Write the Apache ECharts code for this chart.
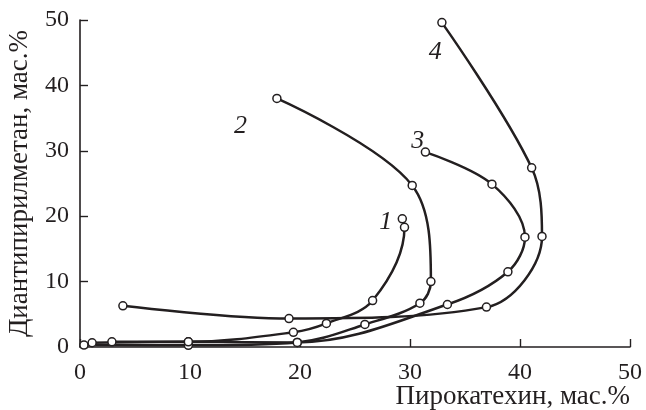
<!DOCTYPE html>
<html>
<head>
<meta charset="utf-8">
<script src="https://cdn.jsdelivr.net/npm/echarts@6/dist/echarts.min.js"></script>
<style>
  html, body { margin: 0; padding: 0; background: #fff; }
  #chart { width: 646px; height: 410px; }
</style>
</head>
<body>
<div id="chart"></div>
<script>
// Solubility curves: catechol (x) vs diantipyrylmethane (y), mass %
const curve1 = [[2.9, 0.8], [9.85, 0.8], [19.4, 2.25], [22.4, 3.6], [26.6, 7.1], [29.5, 18.3], [29.3, 19.6]];
const curve2 = [[0.36, 0.3], [9.85, 0.25], [19.75, 0.7], [25.9, 3.45], [30.9, 6.7], [31.9, 10.0], [30.2, 24.7], [17.9, 38.0]];
const curve3 = [[1.1, 0.65], [9.85, 0.8], [19.75, 0.7], [33.4, 6.5], [38.9, 11.5], [40.45, 16.8], [37.45, 24.9], [31.4, 29.8]];
const curve4 = [[3.9, 6.3], [19.0, 4.35], [36.95, 6.1], [42.0, 16.9], [41.06, 27.4], [32.9, 49.6]];

// Curve numbers and where they sit
const curveNames = ['1', '2', '3', '4'];
const curveLabelAt = [[27.8, 19.1], [14.6, 33.7], [30.7, 31.5], [32.3, 45.1]];

const xTicks = [0, 10, 20, 30, 40, 50];
const yTicks = [0, 10, 20, 30, 40, 50];

const xTitle = 'Пирокатехин, мас.%';
const yTitle = 'Диантипирилметан, мас.%';

const ink = '#231f20';
const serif = '"Liberation Serif", "DejaVu Serif", serif';

function curveSeries(data, idx) {
  return {
    type: 'line',
    name: curveNames[idx],
    data: data,
    smooth: 0.35,
    symbol: 'circle',
    symbolSize: 8,
    showAllSymbol: true,
    lineStyle: { color: ink, width: 2.5 },
    itemStyle: { color: '#fff', borderColor: ink, borderWidth: 1.5 },
    z: 2
  };
}

const chart = echarts.init(document.getElementById('chart'), null, { renderer: 'canvas' });

chart.setOption({
  animation: false,
  backgroundColor: '#fff',
  grid: { left: 80, right: 16, top: 20, bottom: 63, containLabel: false, outerBoundsMode: 'none' },
  graphic: [{
    type: 'text',
    right: 16,
    top: 383,
    style: { text: xTitle, font: '27px ' + serif, fill: ink }
  }],
  xAxis: {
    type: 'value',
    min: xTicks[0],
    max: xTicks[xTicks.length - 1],
    interval: 10,
    axisLine: { lineStyle: { color: ink, width: 1.6 } },
    axisTick: { inside: true, length: 8, lineStyle: { color: ink, width: 1.4 } },
    axisLabel: { fontFamily: serif, fontSize: 24, color: ink, margin: 14 },
    splitLine: { show: false }
  },
  yAxis: {
    type: 'value',
    min: yTicks[0],
    max: yTicks[yTicks.length - 1],
    interval: 10,
    name: yTitle,
    nameLocation: 'middle',
    nameGap: 47,
    nameTextStyle: { fontFamily: serif, fontSize: 27, color: ink },
    axisLine: { show: true, lineStyle: { color: ink, width: 1.6 } },
    axisTick: { show: true, inside: true, length: 8, lineStyle: { color: ink, width: 1.4 } },
    axisLabel: { fontFamily: serif, fontSize: 24, color: ink, margin: 11 },
    splitLine: { show: false }
  },
  series: [
    curveSeries(curve1, 0),
    curveSeries(curve2, 1),
    curveSeries(curve3, 2),
    curveSeries(curve4, 3),
    {
      type: 'scatter',
      data: curveLabelAt.map((p, i) => ({ value: p, name: curveNames[i] })),
      symbolSize: 1,
      itemStyle: { opacity: 0 },
      label: {
        show: true,
        position: 'inside',
        formatter: p => p.name,
        fontFamily: serif,
        fontStyle: 'italic',
        fontSize: 26,
        color: ink,
        opacity: 1
      },
      emphasis: { disabled: true },
      z: 3
    }
  ]
});
</script>
</body>
</html>
